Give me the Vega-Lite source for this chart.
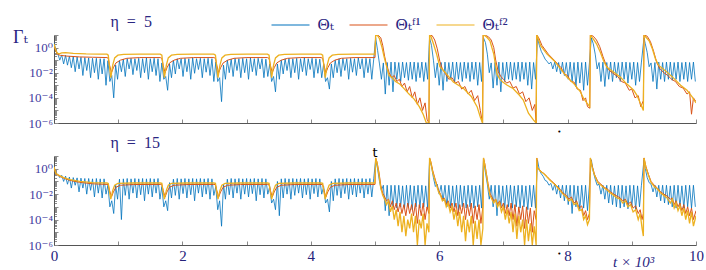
{
"$schema":"https://vega.github.io/schema/vega-lite/v6.json",
"padding":{"left":12,"top":5,"right":0,"bottom":0},
"bounds":"flush",
"spacing":33,
"config":{
 "view":{"stroke":null},
 "font":"Liberation Serif, DejaVu Serif, serif",
 "axis":{"grid":false,"domainColor":"#555555","tickColor":"#8a8a8a","labelColor":"#3f3b9e","labelFont":"Liberation Serif, DejaVu Serif, serif","titleFont":"Liberation Serif, DejaVu Serif, serif","titleColor":"#2a2682","titleFontWeight":"normal","labelFlush":false,"labelOverlap":false},
 "text":{"font":"Liberation Serif, DejaVu Serif, serif"},
 "legend":{"orient":"none","legendX":216.5,"legendY":-30,"direction":"horizontal","symbolType":"stroke","symbolSize":1444,"symbolStrokeWidth":1.2,"labelFont":"Liberation Serif, DejaVu Serif, serif","labelFontSize":17,"labelColor":"#2a2682","columnPadding":12,"labelOffset":7,"padding":0}
},
"datasets":{
"tb":[{"t":0,"v":2.5},{"t":0.03,"v":0.6},{"t":0.06,"v":0.32},{"t":0.09,"v":0.1},{"t":0.12,"v":0.26},{"t":0.15,"v":0.05},{"t":0.18,"v":0.24},{"t":0.21,"v":0.04},{"t":0.24,"v":0.21},{"t":0.27,"v":0.025},{"t":0.3,"v":0.2},{"t":0.33,"v":0.012},{"t":0.36,"v":0.18},{"t":0.39,"v":0.02},{"t":0.42,"v":0.17},{"t":0.45,"v":0.006},{"t":0.48,"v":0.16},{"t":0.51,"v":0.015},{"t":0.54,"v":0.15},{"t":0.57,"v":0.004},{"t":0.6,"v":0.14},{"t":0.63,"v":0.01},{"t":0.66,"v":0.14},{"t":0.69,"v":0.003},{"t":0.72,"v":0.13},{"t":0.75,"v":0.008},{"t":0.78,"v":0.13},{"t":0.81,"v":0.001},{"t":0.84,"v":0.09},{"t":0.87,"v":0.002},{"t":0.9,"v":0.006},{"t":0.93,"v":1e-4},{"t":0.96,"v":0.04},{"t":0.99,"v":0.003},{"t":1.02,"v":0.09},{"t":1.05,"v":0.012},{"t":1.08,"v":0.12},{"t":1.11,"v":0.005},{"t":1.14,"v":0.13},{"t":1.17,"v":0.02},{"t":1.2,"v":0.14},{"t":1.23,"v":0.007},{"t":1.26,"v":0.13},{"t":1.29,"v":0.015},{"t":1.32,"v":0.14},{"t":1.35,"v":0.004},{"t":1.38,"v":0.13},{"t":1.41,"v":0.01},{"t":1.44,"v":0.15},{"t":1.47,"v":0.003},{"t":1.5,"v":0.13},{"t":1.53,"v":0.012},{"t":1.56,"v":0.14},{"t":1.59,"v":0.006},{"t":1.62,"v":0.13},{"t":1.65,"v":0.002},{"t":1.68,"v":0.06},{"t":1.71,"v":0.003},{"t":1.74,"v":0.005},{"t":1.77,"v":4e-4},{"t":1.8,"v":0.05},{"t":1.83,"v":0.004},{"t":1.86,"v":0.1},{"t":1.89,"v":0.008},{"t":1.92,"v":0.13},{"t":1.95,"v":0.02},{"t":1.98,"v":0.13},{"t":2.01,"v":0.005},{"t":2.04,"v":0.14},{"t":2.07,"v":0.012},{"t":2.1,"v":0.13},{"t":2.13,"v":0.003},{"t":2.16,"v":0.15},{"t":2.19,"v":0.009},{"t":2.22,"v":0.13},{"t":2.25,"v":0.018},{"t":2.28,"v":0.14},{"t":2.31,"v":0.004},{"t":2.34,"v":0.13},{"t":2.37,"v":0.011},{"t":2.4,"v":0.14},{"t":2.43,"v":0.006},{"t":2.46,"v":0.13},{"t":2.49,"v":0.002},{"t":2.52,"v":0.07},{"t":2.55,"v":0.002},{"t":2.58,"v":0.004},{"t":2.61,"v":5e-5},{"t":2.64,"v":0.04},{"t":2.67,"v":0.003},{"t":2.7,"v":0.1},{"t":2.73,"v":0.01},{"t":2.76,"v":0.12},{"t":2.79,"v":0.005},{"t":2.82,"v":0.14},{"t":2.85,"v":0.015},{"t":2.88,"v":0.13},{"t":2.91,"v":0.004},{"t":2.94,"v":0.14},{"t":2.97,"v":0.01},{"t":3.0,"v":0.13},{"t":3.03,"v":0.003},{"t":3.06,"v":0.15},{"t":3.09,"v":0.012},{"t":3.12,"v":0.13},{"t":3.15,"v":0.006},{"t":3.18,"v":0.14},{"t":3.21,"v":0.02},{"t":3.24,"v":0.13},{"t":3.27,"v":0.004},{"t":3.3,"v":0.12},{"t":3.33,"v":0.005},{"t":3.36,"v":0.05},{"t":3.39,"v":0.002},{"t":3.42,"v":0.005},{"t":3.45,"v":3e-4},{"t":3.48,"v":0.05},{"t":3.51,"v":0.003},{"t":3.54,"v":0.1},{"t":3.57,"v":0.008},{"t":3.6,"v":0.13},{"t":3.63,"v":0.015},{"t":3.66,"v":0.14},{"t":3.69,"v":0.004},{"t":3.72,"v":0.13},{"t":3.75,"v":0.01},{"t":3.78,"v":0.14},{"t":3.81,"v":0.003},{"t":3.84,"v":0.13},{"t":3.87,"v":0.012},{"t":3.9,"v":0.15},{"t":3.93,"v":0.006},{"t":3.96,"v":0.13},{"t":3.99,"v":0.018},{"t":4.02,"v":0.14},{"t":4.05,"v":0.004},{"t":4.08,"v":0.13},{"t":4.11,"v":0.009},{"t":4.14,"v":0.12},{"t":4.17,"v":0.004},{"t":4.2,"v":0.05},{"t":4.23,"v":0.002},{"t":4.26,"v":0.004},{"t":4.29,"v":5e-4},{"t":4.32,"v":0.05},{"t":4.35,"v":0.004},{"t":4.38,"v":0.1},{"t":4.41,"v":0.01},{"t":4.44,"v":0.13},{"t":4.47,"v":0.005},{"t":4.5,"v":0.14},{"t":4.53,"v":0.015},{"t":4.56,"v":0.13},{"t":4.59,"v":0.003},{"t":4.62,"v":0.14},{"t":4.65,"v":0.011},{"t":4.68,"v":0.13},{"t":4.71,"v":0.006},{"t":4.74,"v":0.15},{"t":4.77,"v":0.02},{"t":4.8,"v":0.13},{"t":4.83,"v":0.004},{"t":4.86,"v":0.14},{"t":4.89,"v":0.01},{"t":4.92,"v":0.13},{"t":4.95,"v":0.003},{"t":4.98,"v":0.12},{"t":5.01,"v":6},{"t":5.04,"v":0.6},{"t":5.07,"v":0.05},{"t":5.1,"v":0.003},{"t":5.13,"v":0.06},{"t":5.16,"v":2e-4},{"t":5.19,"v":0.065},{"t":5.22,"v":0.001},{"t":5.25,"v":0.07},{"t":5.28,"v":3e-4},{"t":5.31,"v":0.07},{"t":5.34,"v":0.003},{"t":5.37,"v":0.065},{"t":5.4,"v":0.002},{"t":5.43,"v":0.07},{"t":5.46,"v":0.004},{"t":5.49,"v":0.065},{"t":5.52,"v":0.0025},{"t":5.55,"v":0.07},{"t":5.58,"v":0.003},{"t":5.61,"v":0.07},{"t":5.64,"v":0.002},{"t":5.67,"v":0.065},{"t":5.7,"v":0.004},{"t":5.73,"v":0.07},{"t":5.76,"v":0.002},{"t":5.79,"v":0.065},{"t":5.82,"v":0.003},{"t":5.85,"v":6},{"t":5.88,"v":1.5},{"t":5.91,"v":0.1},{"t":5.94,"v":0.004},{"t":5.97,"v":0.06},{"t":6.0,"v":0.001},{"t":6.03,"v":0.065},{"t":6.06,"v":4e-4},{"t":6.09,"v":0.07},{"t":6.12,"v":0.002},{"t":6.15,"v":0.065},{"t":6.18,"v":0.003},{"t":6.21,"v":0.07},{"t":6.24,"v":0.0015},{"t":6.27,"v":0.07},{"t":6.3,"v":0.003},{"t":6.33,"v":0.065},{"t":6.36,"v":0.002},{"t":6.39,"v":0.07},{"t":6.42,"v":0.0035},{"t":6.45,"v":0.065},{"t":6.48,"v":0.002},{"t":6.51,"v":0.07},{"t":6.54,"v":0.003},{"t":6.57,"v":0.07},{"t":6.6,"v":0.001},{"t":6.63,"v":0.065},{"t":6.66,"v":0.002},{"t":6.69,"v":6},{"t":6.72,"v":2.5},{"t":6.75,"v":0.3},{"t":6.78,"v":0.01},{"t":6.81,"v":0.06},{"t":6.84,"v":6e-4},{"t":6.87,"v":0.065},{"t":6.9,"v":0.001},{"t":6.93,"v":0.07},{"t":6.96,"v":3e-4},{"t":6.99,"v":0.065},{"t":7.02,"v":0.002},{"t":7.05,"v":0.07},{"t":7.08,"v":0.003},{"t":7.11,"v":0.07},{"t":7.14,"v":0.0025},{"t":7.17,"v":0.065},{"t":7.2,"v":0.003},{"t":7.23,"v":0.07},{"t":7.26,"v":0.002},{"t":7.29,"v":0.07},{"t":7.32,"v":0.003},{"t":7.35,"v":0.065},{"t":7.38,"v":0.001},{"t":7.41,"v":0.07},{"t":7.44,"v":5e-4},{"t":7.47,"v":0.065},{"t":7.5,"v":0.003},{"t":7.53,"v":6},{"t":7.56,"v":1.5},{"t":7.59,"v":0.5},{"t":7.62,"v":0.25},{"t":7.65,"v":0.12},{"t":7.68,"v":0.08},{"t":7.71,"v":0.05},{"t":7.74,"v":0.07},{"t":7.77,"v":0.02},{"t":7.8,"v":0.07},{"t":7.83,"v":0.012},{"t":7.86,"v":0.065},{"t":7.89,"v":0.008},{"t":7.92,"v":0.07},{"t":7.95,"v":0.006},{"t":7.98,"v":0.065},{"t":8.01,"v":0.003},{"t":8.04,"v":0.07},{"t":8.07,"v":0.002},{"t":8.1,"v":0.065},{"t":8.13,"v":8e-4},{"t":8.16,"v":0.07},{"t":8.19,"v":0.0015},{"t":8.22,"v":0.065},{"t":8.25,"v":4e-4},{"t":8.28,"v":0.07},{"t":8.31,"v":0.001},{"t":8.34,"v":0.06},{"t":8.37,"v":6},{"t":8.4,"v":2},{"t":8.43,"v":0.3},{"t":8.46,"v":0.02},{"t":8.49,"v":0.065},{"t":8.52,"v":0.002},{"t":8.55,"v":0.07},{"t":8.58,"v":8e-4},{"t":8.61,"v":0.065},{"t":8.64,"v":0.003},{"t":8.67,"v":0.07},{"t":8.7,"v":0.002},{"t":8.73,"v":0.07},{"t":8.76,"v":0.004},{"t":8.79,"v":0.065},{"t":8.82,"v":0.002},{"t":8.85,"v":0.07},{"t":8.88,"v":0.003},{"t":8.91,"v":0.07},{"t":8.94,"v":0.0015},{"t":8.97,"v":0.065},{"t":9.0,"v":0.003},{"t":9.03,"v":0.07},{"t":9.06,"v":0.001},{"t":9.09,"v":0.065},{"t":9.12,"v":0.002},{"t":9.15,"v":0.07},{"t":9.19,"v":6},{"t":9.21,"v":2},{"t":9.24,"v":0.4},{"t":9.27,"v":0.03},{"t":9.3,"v":0.06},{"t":9.33,"v":0.002},{"t":9.36,"v":0.065},{"t":9.39,"v":5e-4},{"t":9.42,"v":0.07},{"t":9.45,"v":0.003},{"t":9.48,"v":0.065},{"t":9.51,"v":0.002},{"t":9.54,"v":0.07},{"t":9.57,"v":0.003},{"t":9.6,"v":0.07},{"t":9.63,"v":0.0025},{"t":9.66,"v":0.065},{"t":9.69,"v":0.003},{"t":9.72,"v":0.07},{"t":9.75,"v":0.002},{"t":9.78,"v":0.065},{"t":9.81,"v":0.003},{"t":9.84,"v":0.07},{"t":9.87,"v":0.002},{"t":9.9,"v":0.065},{"t":9.93,"v":0.003},{"t":9.96,"v":0.07},{"t":9.99,"v":0.002}],
"t1":[{"t":0,"v":1.8},{"t":0.02,"v":0.7},{"t":0.05,"v":0.3},{"t":0.1,"v":0.24},{"t":0.2,"v":0.21},{"t":0.4,"v":0.18},{"t":0.6,"v":0.17},{"t":0.825,"v":0.16},{"t":0.845,"v":0.14},{"t":0.865,"v":0.04},{"t":0.895,"v":0.01},{"t":0.925,"v":0.025},{"t":0.965,"v":0.06},{"t":1.035,"v":0.1},{"t":1.135,"v":0.14},{"t":1.335,"v":0.16},{"t":1.655,"v":0.16},{"t":1.68,"v":0.14},{"t":1.7,"v":0.04},{"t":1.73,"v":0.01},{"t":1.76,"v":0.025},{"t":1.8,"v":0.06},{"t":1.87,"v":0.1},{"t":1.97,"v":0.14},{"t":2.17,"v":0.16},{"t":2.49,"v":0.16},{"t":2.515,"v":0.14},{"t":2.535,"v":0.04},{"t":2.565,"v":0.01},{"t":2.595,"v":0.025},{"t":2.635,"v":0.06},{"t":2.705,"v":0.1},{"t":2.805,"v":0.14},{"t":3.005,"v":0.16},{"t":3.325,"v":0.16},{"t":3.35,"v":0.14},{"t":3.37,"v":0.04},{"t":3.4,"v":0.01},{"t":3.43,"v":0.025},{"t":3.47,"v":0.06},{"t":3.54,"v":0.1},{"t":3.64,"v":0.14},{"t":3.84,"v":0.16},{"t":4.16,"v":0.16},{"t":4.185,"v":0.14},{"t":4.205,"v":0.04},{"t":4.235,"v":0.01},{"t":4.265,"v":0.025},{"t":4.305,"v":0.06},{"t":4.375,"v":0.1},{"t":4.475,"v":0.14},{"t":4.675,"v":0.16},{"t":5.0,"v":0.16},{"t":5.01,"v":10},{"t":5.05,"v":9.5},{"t":5.09,"v":6},{"t":5.12,"v":1.5},{"t":5.15,"v":0.2},{"t":5.18,"v":0.04},{"t":5.22,"v":0.01},{"t":5.26,"v":0.004},{"t":5.3,"v":0.006},{"t":5.34,"v":0.002},{"t":5.38,"v":0.003},{"t":5.42,"v":8e-4},{"t":5.46,"v":0.0015},{"t":5.5,"v":3e-4},{"t":5.54,"v":8e-4},{"t":5.58,"v":1e-4},{"t":5.62,"v":3e-4},{"t":5.66,"v":3e-5},{"t":5.7,"v":1e-4},{"t":5.74,"v":1e-5},{"t":5.78,"v":4e-5},{"t":5.81,"v":2e-6},{"t":5.84,"v":5e-7},{"t":5.85,"v":10},{"t":5.89,"v":9},{"t":5.93,"v":4},{"t":5.97,"v":0.8},{"t":6.01,"v":0.08},{"t":6.05,"v":0.02},{"t":6.1,"v":0.008},{"t":6.15,"v":0.003},{"t":6.2,"v":0.004},{"t":6.25,"v":0.0015},{"t":6.3,"v":0.002},{"t":6.35,"v":5e-4},{"t":6.4,"v":8e-4},{"t":6.45,"v":2e-4},{"t":6.5,"v":4e-4},{"t":6.55,"v":6e-5},{"t":6.6,"v":1.5e-4},{"t":6.64,"v":1e-5},{"t":6.675,"v":1e-6},{"t":6.685,"v":10},{"t":6.72,"v":9.5},{"t":6.77,"v":7},{"t":6.81,"v":4},{"t":6.85,"v":1},{"t":6.88,"v":0.1},{"t":6.92,"v":0.012},{"t":6.96,"v":0.005},{"t":7.0,"v":0.003},{"t":7.05,"v":0.0015},{"t":7.1,"v":0.002},{"t":7.15,"v":6e-4},{"t":7.2,"v":8e-4},{"t":7.25,"v":2e-4},{"t":7.3,"v":3e-4},{"t":7.35,"v":5e-5},{"t":7.4,"v":1e-4},{"t":7.45,"v":1e-5},{"t":7.49,"v":3e-5},{"t":7.51,"v":1e-6},{"t":7.52,"v":10},{"t":7.55,"v":6},{"t":7.6,"v":1.5},{"t":7.7,"v":0.3},{"t":7.8,"v":0.09},{"t":7.86,"v":0.04},{"t":7.9,"v":0.025},{"t":7.95,"v":0.008},{"t":8.0,"v":0.006},{"t":8.05,"v":0.002},{"t":8.1,"v":0.0018},{"t":8.15,"v":5e-4},{"t":8.2,"v":4e-4},{"t":8.24,"v":6e-5},{"t":8.28,"v":1e-4},{"t":8.31,"v":2e-5},{"t":8.345,"v":1.5e-5},{"t":8.355,"v":10},{"t":8.4,"v":8},{"t":8.45,"v":4},{"t":8.5,"v":1.2},{"t":8.55,"v":0.2},{"t":8.6,"v":0.04},{"t":8.65,"v":0.015},{"t":8.72,"v":0.008},{"t":8.78,"v":0.005},{"t":8.84,"v":0.002},{"t":8.9,"v":0.0015},{"t":8.96,"v":4e-4},{"t":9.0,"v":5e-4},{"t":9.05,"v":1e-4},{"t":9.1,"v":1.5e-4},{"t":9.14,"v":2e-5},{"t":9.18,"v":6e-5},{"t":9.19,"v":10},{"t":9.24,"v":8},{"t":9.29,"v":3},{"t":9.34,"v":0.5},{"t":9.39,"v":0.06},{"t":9.44,"v":0.02},{"t":9.5,"v":0.01},{"t":9.56,"v":0.006},{"t":9.62,"v":0.003},{"t":9.68,"v":0.002},{"t":9.74,"v":8e-4},{"t":9.8,"v":6e-4},{"t":9.86,"v":2e-4},{"t":9.9,"v":3e-4},{"t":9.93,"v":5e-6},{"t":9.96,"v":1e-4},{"t":10,"v":5e-5}],
"t2":[{"t":0,"v":2},{"t":0.02,"v":0.8},{"t":0.05,"v":0.36},{"t":0.08,"v":0.32},{"t":0.12,"v":0.38},{"t":0.18,"v":0.4},{"t":0.3,"v":0.34},{"t":0.5,"v":0.31},{"t":0.7,"v":0.3},{"t":0.825,"v":0.3},{"t":0.845,"v":0.25},{"t":0.865,"v":0.03},{"t":0.885,"v":0.004},{"t":0.915,"v":0.04},{"t":0.945,"v":0.15},{"t":0.995,"v":0.25},{"t":1.085,"v":0.29},{"t":1.335,"v":0.3},{"t":1.655,"v":0.3},{"t":1.68,"v":0.25},{"t":1.7,"v":0.03},{"t":1.72,"v":0.004},{"t":1.75,"v":0.04},{"t":1.78,"v":0.15},{"t":1.83,"v":0.25},{"t":1.92,"v":0.29},{"t":2.17,"v":0.3},{"t":2.49,"v":0.3},{"t":2.515,"v":0.25},{"t":2.535,"v":0.03},{"t":2.555,"v":0.004},{"t":2.585,"v":0.04},{"t":2.615,"v":0.15},{"t":2.665,"v":0.25},{"t":2.755,"v":0.29},{"t":3.005,"v":0.3},{"t":3.325,"v":0.3},{"t":3.35,"v":0.25},{"t":3.37,"v":0.03},{"t":3.39,"v":0.004},{"t":3.42,"v":0.04},{"t":3.45,"v":0.15},{"t":3.5,"v":0.25},{"t":3.59,"v":0.29},{"t":3.84,"v":0.3},{"t":4.16,"v":0.3},{"t":4.185,"v":0.25},{"t":4.205,"v":0.03},{"t":4.225,"v":0.004},{"t":4.255,"v":0.04},{"t":4.285,"v":0.15},{"t":4.335,"v":0.25},{"t":4.425,"v":0.29},{"t":4.675,"v":0.3},{"t":5.0,"v":0.3},{"t":5.01,"v":10},{"t":5.04,"v":9},{"t":5.07,"v":5},{"t":5.11,"v":1},{"t":5.14,"v":0.2},{"t":5.17,"v":0.05},{"t":5.22,"v":0.006},{"t":5.27,"v":0.004},{"t":5.32,"v":0.002},{"t":5.39,"v":0.0012},{"t":5.46,"v":5e-4},{"t":5.53,"v":2e-4},{"t":5.61,"v":8e-5},{"t":5.69,"v":2e-5},{"t":5.75,"v":5e-6},{"t":5.8,"v":1e-6},{"t":5.84,"v":5e-7},{"t":5.85,"v":10},{"t":5.87,"v":8},{"t":5.91,"v":2},{"t":5.96,"v":0.3},{"t":6.01,"v":0.03},{"t":6.09,"v":0.011},{"t":6.22,"v":0.0018},{"t":6.38,"v":5.5e-4},{"t":6.5,"v":1.3e-4},{"t":6.59,"v":2e-5},{"t":6.64,"v":3e-6},{"t":6.675,"v":5e-7},{"t":6.685,"v":10},{"t":6.71,"v":9},{"t":6.75,"v":6},{"t":6.79,"v":3.5},{"t":6.85,"v":0.3},{"t":6.9,"v":0.008},{"t":6.94,"v":0.0034},{"t":6.99,"v":0.0018},{"t":7.06,"v":0.001},{"t":7.15,"v":5.5e-4},{"t":7.25,"v":1.6e-4},{"t":7.31,"v":6.6e-5},{"t":7.39,"v":6e-6},{"t":7.47,"v":1.7e-6},{"t":7.51,"v":5e-7},{"t":7.52,"v":10},{"t":7.53,"v":8},{"t":7.58,"v":1.4},{"t":7.68,"v":0.3},{"t":7.79,"v":0.09},{"t":7.89,"v":0.02},{"t":7.99,"v":0.0045},{"t":8.1,"v":0.0013},{"t":8.2,"v":3e-4},{"t":8.25,"v":9e-5},{"t":8.3,"v":4e-5},{"t":8.345,"v":2e-5},{"t":8.355,"v":10},{"t":8.4,"v":5},{"t":8.45,"v":2},{"t":8.51,"v":0.43},{"t":8.56,"v":0.09},{"t":8.61,"v":0.028},{"t":8.72,"v":0.011},{"t":8.82,"v":0.0046},{"t":8.92,"v":0.0013},{"t":9.03,"v":4e-4},{"t":9.08,"v":1.6e-4},{"t":9.13,"v":4e-5},{"t":9.18,"v":1e-5},{"t":9.19,"v":10},{"t":9.27,"v":3.5},{"t":9.32,"v":0.8},{"t":9.37,"v":0.12},{"t":9.42,"v":0.038},{"t":9.55,"v":0.011},{"t":9.66,"v":0.0034},{"t":9.76,"v":0.001},{"t":9.86,"v":4e-4},{"t":9.94,"v":1.2e-4},{"t":10,"v":4e-5}],
"bb":[{"t":0,"v":1.4},{"t":0.03,"v":0.4},{"t":0.06,"v":0.35},{"t":0.09,"v":0.2},{"t":0.12,"v":0.3},{"t":0.15,"v":0.1},{"t":0.18,"v":0.26},{"t":0.21,"v":0.06},{"t":0.24,"v":0.22},{"t":0.27,"v":0.03},{"t":0.3,"v":0.2},{"t":0.33,"v":0.05},{"t":0.36,"v":0.19},{"t":0.39,"v":0.015},{"t":0.42,"v":0.18},{"t":0.45,"v":0.03},{"t":0.48,"v":0.17},{"t":0.51,"v":0.01},{"t":0.54,"v":0.17},{"t":0.57,"v":0.02},{"t":0.6,"v":0.16},{"t":0.63,"v":0.006},{"t":0.66,"v":0.17},{"t":0.69,"v":0.012},{"t":0.72,"v":0.16},{"t":0.75,"v":0.005},{"t":0.78,"v":0.16},{"t":0.81,"v":0.01},{"t":0.84,"v":0.05},{"t":0.87,"v":0.001},{"t":0.9,"v":0.003},{"t":0.93,"v":3e-4},{"t":0.96,"v":0.05},{"t":0.99,"v":0.004},{"t":1.02,"v":0.15},{"t":1.05,"v":1e-4},{"t":1.08,"v":0.16},{"t":1.11,"v":0.008},{"t":1.14,"v":0.17},{"t":1.17,"v":0.004},{"t":1.2,"v":0.16},{"t":1.23,"v":0.012},{"t":1.26,"v":0.17},{"t":1.29,"v":0.005},{"t":1.32,"v":0.16},{"t":1.35,"v":0.009},{"t":1.38,"v":0.17},{"t":1.41,"v":0.003},{"t":1.44,"v":0.16},{"t":1.47,"v":0.01},{"t":1.5,"v":0.17},{"t":1.53,"v":0.006},{"t":1.56,"v":0.16},{"t":1.59,"v":0.012},{"t":1.62,"v":0.17},{"t":1.65,"v":0.004},{"t":1.68,"v":0.04},{"t":1.71,"v":0.001},{"t":1.74,"v":0.003},{"t":1.77,"v":5e-4},{"t":1.8,"v":0.08},{"t":1.83,"v":0.005},{"t":1.86,"v":0.15},{"t":1.89,"v":0.008},{"t":1.92,"v":0.17},{"t":1.95,"v":0.004},{"t":1.98,"v":0.16},{"t":2.01,"v":0.011},{"t":2.04,"v":0.17},{"t":2.07,"v":0.005},{"t":2.1,"v":0.16},{"t":2.13,"v":0.009},{"t":2.16,"v":0.17},{"t":2.19,"v":0.003},{"t":2.22,"v":0.16},{"t":2.25,"v":0.012},{"t":2.28,"v":0.17},{"t":2.31,"v":0.006},{"t":2.34,"v":0.16},{"t":2.37,"v":0.01},{"t":2.4,"v":0.17},{"t":2.43,"v":0.004},{"t":2.46,"v":0.16},{"t":2.49,"v":0.008},{"t":2.52,"v":0.04},{"t":2.55,"v":6e-4},{"t":2.58,"v":0.003},{"t":2.61,"v":3e-5},{"t":2.64,"v":0.06},{"t":2.67,"v":0.004},{"t":2.7,"v":0.15},{"t":2.73,"v":0.009},{"t":2.76,"v":0.17},{"t":2.79,"v":0.005},{"t":2.82,"v":0.16},{"t":2.85,"v":0.012},{"t":2.88,"v":0.17},{"t":2.91,"v":0.004},{"t":2.94,"v":0.16},{"t":2.97,"v":0.01},{"t":3.0,"v":0.17},{"t":3.03,"v":0.006},{"t":3.06,"v":0.16},{"t":3.09,"v":0.011},{"t":3.12,"v":0.17},{"t":3.15,"v":0.003},{"t":3.18,"v":0.16},{"t":3.21,"v":0.009},{"t":3.24,"v":0.17},{"t":3.27,"v":0.005},{"t":3.3,"v":0.16},{"t":3.33,"v":0.01},{"t":3.36,"v":0.04},{"t":3.39,"v":0.002},{"t":3.42,"v":0.004},{"t":3.45,"v":6e-4},{"t":3.48,"v":0.1},{"t":3.51,"v":2e-4},{"t":3.54,"v":0.16},{"t":3.57,"v":0.005},{"t":3.6,"v":0.17},{"t":3.63,"v":0.01},{"t":3.66,"v":0.16},{"t":3.69,"v":0.004},{"t":3.72,"v":0.17},{"t":3.75,"v":0.008},{"t":3.78,"v":0.16},{"t":3.81,"v":0.012},{"t":3.84,"v":0.17},{"t":3.87,"v":0.005},{"t":3.9,"v":0.16},{"t":3.93,"v":0.009},{"t":3.96,"v":0.17},{"t":3.99,"v":0.004},{"t":4.02,"v":0.16},{"t":4.05,"v":0.011},{"t":4.08,"v":0.17},{"t":4.11,"v":0.006},{"t":4.14,"v":0.16},{"t":4.17,"v":0.01},{"t":4.2,"v":0.04},{"t":4.23,"v":0.002},{"t":4.26,"v":0.004},{"t":4.29,"v":4e-4},{"t":4.32,"v":0.1},{"t":4.35,"v":0.003},{"t":4.38,"v":0.16},{"t":4.41,"v":0.008},{"t":4.44,"v":0.17},{"t":4.47,"v":0.005},{"t":4.5,"v":0.16},{"t":4.53,"v":0.011},{"t":4.56,"v":0.17},{"t":4.59,"v":0.004},{"t":4.62,"v":0.16},{"t":4.65,"v":0.009},{"t":4.68,"v":0.17},{"t":4.71,"v":0.006},{"t":4.74,"v":0.16},{"t":4.77,"v":0.012},{"t":4.8,"v":0.17},{"t":4.83,"v":0.005},{"t":4.86,"v":0.16},{"t":4.89,"v":0.01},{"t":4.92,"v":0.17},{"t":4.95,"v":0.006},{"t":4.98,"v":0.16},{"t":5.01,"v":5},{"t":5.04,"v":1},{"t":5.07,"v":0.1},{"t":5.1,"v":0.02},{"t":5.13,"v":0.05},{"t":5.16,"v":5e-4},{"t":5.19,"v":0.05},{"t":5.22,"v":2e-4},{"t":5.25,"v":0.05},{"t":5.28,"v":0.001},{"t":5.31,"v":0.05},{"t":5.34,"v":8e-4},{"t":5.37,"v":0.05},{"t":5.4,"v":0.001},{"t":5.43,"v":0.045},{"t":5.46,"v":8e-4},{"t":5.49,"v":0.05},{"t":5.52,"v":0.001},{"t":5.55,"v":0.05},{"t":5.58,"v":6e-4},{"t":5.61,"v":0.045},{"t":5.64,"v":0.001},{"t":5.67,"v":0.05},{"t":5.7,"v":8e-4},{"t":5.73,"v":0.05},{"t":5.76,"v":0.001},{"t":5.79,"v":0.045},{"t":5.82,"v":8e-4},{"t":5.85,"v":5},{"t":5.88,"v":1.5},{"t":5.91,"v":0.2},{"t":5.94,"v":0.04},{"t":5.97,"v":0.06},{"t":6.0,"v":0.01},{"t":6.03,"v":0.05},{"t":6.06,"v":0.003},{"t":6.09,"v":0.05},{"t":6.12,"v":0.001},{"t":6.15,"v":0.05},{"t":6.18,"v":8e-4},{"t":6.21,"v":0.045},{"t":6.24,"v":0.001},{"t":6.27,"v":0.05},{"t":6.3,"v":5e-4},{"t":6.33,"v":0.05},{"t":6.36,"v":0.001},{"t":6.39,"v":0.045},{"t":6.42,"v":8e-4},{"t":6.45,"v":0.05},{"t":6.48,"v":0.001},{"t":6.51,"v":0.05},{"t":6.54,"v":8e-4},{"t":6.57,"v":0.045},{"t":6.6,"v":0.001},{"t":6.63,"v":0.05},{"t":6.66,"v":8e-4},{"t":6.69,"v":5},{"t":6.72,"v":0.5},{"t":6.75,"v":0.06},{"t":6.78,"v":0.004},{"t":6.81,"v":0.05},{"t":6.84,"v":0.001},{"t":6.87,"v":0.05},{"t":6.9,"v":2e-4},{"t":6.93,"v":0.05},{"t":6.96,"v":0.001},{"t":6.99,"v":0.045},{"t":7.02,"v":8e-4},{"t":7.05,"v":0.05},{"t":7.08,"v":0.001},{"t":7.11,"v":0.05},{"t":7.14,"v":8e-4},{"t":7.17,"v":0.045},{"t":7.2,"v":0.001},{"t":7.23,"v":0.05},{"t":7.26,"v":8e-4},{"t":7.29,"v":0.05},{"t":7.32,"v":0.001},{"t":7.35,"v":0.045},{"t":7.38,"v":6e-4},{"t":7.41,"v":0.05},{"t":7.44,"v":0.001},{"t":7.47,"v":0.05},{"t":7.5,"v":8e-4},{"t":7.53,"v":5},{"t":7.56,"v":0.8},{"t":7.59,"v":0.4},{"t":7.62,"v":0.25},{"t":7.65,"v":0.12},{"t":7.68,"v":0.1},{"t":7.71,"v":0.05},{"t":7.74,"v":0.07},{"t":7.77,"v":0.02},{"t":7.8,"v":0.06},{"t":7.83,"v":0.01},{"t":7.86,"v":0.05},{"t":7.89,"v":0.005},{"t":7.92,"v":0.05},{"t":7.95,"v":0.003},{"t":7.98,"v":0.05},{"t":8.01,"v":0.0015},{"t":8.04,"v":0.05},{"t":8.07,"v":3e-4},{"t":8.1,"v":0.05},{"t":8.13,"v":0.001},{"t":8.16,"v":0.045},{"t":8.19,"v":6e-4},{"t":8.22,"v":0.05},{"t":8.25,"v":8e-4},{"t":8.28,"v":0.05},{"t":8.31,"v":5e-4},{"t":8.34,"v":0.05},{"t":8.37,"v":5},{"t":8.4,"v":0.6},{"t":8.43,"v":0.15},{"t":8.46,"v":0.05},{"t":8.49,"v":0.06},{"t":8.52,"v":0.01},{"t":8.55,"v":0.05},{"t":8.58,"v":0.004},{"t":8.61,"v":0.05},{"t":8.64,"v":0.002},{"t":8.67,"v":0.05},{"t":8.7,"v":0.0015},{"t":8.73,"v":0.045},{"t":8.76,"v":0.001},{"t":8.79,"v":0.05},{"t":8.82,"v":8e-4},{"t":8.85,"v":0.05},{"t":8.88,"v":0.001},{"t":8.91,"v":0.045},{"t":8.94,"v":7e-4},{"t":8.97,"v":0.05},{"t":9.0,"v":0.001},{"t":9.03,"v":0.05},{"t":9.06,"v":6e-4},{"t":9.09,"v":0.045},{"t":9.12,"v":0.001},{"t":9.15,"v":0.05},{"t":9.19,"v":5},{"t":9.21,"v":1},{"t":9.24,"v":0.2},{"t":9.27,"v":0.08},{"t":9.3,"v":0.06},{"t":9.33,"v":0.015},{"t":9.36,"v":0.05},{"t":9.39,"v":0.006},{"t":9.42,"v":0.05},{"t":9.45,"v":0.003},{"t":9.48,"v":0.05},{"t":9.51,"v":0.002},{"t":9.54,"v":0.05},{"t":9.57,"v":0.0015},{"t":9.6,"v":0.045},{"t":9.63,"v":0.001},{"t":9.66,"v":0.05},{"t":9.69,"v":8e-4},{"t":9.72,"v":0.05},{"t":9.75,"v":0.001},{"t":9.78,"v":0.045},{"t":9.81,"v":8e-4},{"t":9.84,"v":0.05},{"t":9.87,"v":0.001},{"t":9.9,"v":0.05},{"t":9.93,"v":8e-4},{"t":9.96,"v":0.05},{"t":9.99,"v":0.001}],
"b1":[{"t":0,"v":1.3},{"t":0.03,"v":0.38},{"t":0.08,"v":0.27},{"t":0.15,"v":0.18},{"t":0.25,"v":0.12},{"t":0.4,"v":0.085},{"t":0.6,"v":0.065},{"t":0.825,"v":0.058},{"t":0.845,"v":0.055},{"t":0.865,"v":0.02},{"t":0.895,"v":0.006},{"t":0.925,"v":0.015},{"t":0.965,"v":0.035},{"t":1.035,"v":0.05},{"t":1.235,"v":0.057},{"t":1.655,"v":0.058},{"t":1.68,"v":0.055},{"t":1.7,"v":0.02},{"t":1.73,"v":0.006},{"t":1.76,"v":0.015},{"t":1.8,"v":0.035},{"t":1.87,"v":0.05},{"t":2.07,"v":0.057},{"t":2.49,"v":0.058},{"t":2.515,"v":0.055},{"t":2.535,"v":0.02},{"t":2.565,"v":0.006},{"t":2.595,"v":0.015},{"t":2.635,"v":0.035},{"t":2.705,"v":0.05},{"t":2.905,"v":0.057},{"t":3.325,"v":0.058},{"t":3.35,"v":0.055},{"t":3.37,"v":0.02},{"t":3.4,"v":0.006},{"t":3.43,"v":0.015},{"t":3.47,"v":0.035},{"t":3.54,"v":0.05},{"t":3.74,"v":0.057},{"t":4.16,"v":0.058},{"t":4.185,"v":0.055},{"t":4.205,"v":0.02},{"t":4.235,"v":0.006},{"t":4.265,"v":0.015},{"t":4.305,"v":0.035},{"t":4.375,"v":0.05},{"t":4.575,"v":0.057},{"t":5.0,"v":0.058},{"t":5.01,"v":7},{"t":5.03,"v":3.5},{"t":5.06,"v":0.6},{"t":5.09,"v":0.05},{"t":5.12,"v":0.012},{"t":5.15,"v":0.006},{"t":5.18,"v":0.003},{"t":5.21,"v":0.004},{"t":5.24,"v":0.001},{"t":5.27,"v":0.003},{"t":5.3,"v":6e-4},{"t":5.33,"v":0.002},{"t":5.36,"v":4e-4},{"t":5.39,"v":0.002},{"t":5.42,"v":3e-4},{"t":5.45,"v":0.0015},{"t":5.48,"v":2e-4},{"t":5.51,"v":0.002},{"t":5.54,"v":3e-4},{"t":5.57,"v":0.0015},{"t":5.6,"v":2e-4},{"t":5.63,"v":0.002},{"t":5.66,"v":5e-5},{"t":5.69,"v":0.0015},{"t":5.72,"v":2e-4},{"t":5.75,"v":0.002},{"t":5.78,"v":1e-4},{"t":5.81,"v":0.001},{"t":5.84,"v":3e-4},{"t":5.85,"v":7},{"t":5.87,"v":3.5},{"t":5.9,"v":0.7},{"t":5.93,"v":0.2},{"t":5.96,"v":0.06},{"t":5.99,"v":0.02},{"t":6.02,"v":0.01},{"t":6.05,"v":0.004},{"t":6.08,"v":0.005},{"t":6.11,"v":0.0015},{"t":6.14,"v":0.003},{"t":6.17,"v":8e-4},{"t":6.2,"v":0.002},{"t":6.23,"v":4e-4},{"t":6.26,"v":0.002},{"t":6.29,"v":2e-4},{"t":6.32,"v":0.0015},{"t":6.35,"v":3e-4},{"t":6.38,"v":0.002},{"t":6.41,"v":1e-4},{"t":6.44,"v":0.0015},{"t":6.47,"v":2e-4},{"t":6.5,"v":0.002},{"t":6.53,"v":5e-5},{"t":6.56,"v":0.0012},{"t":6.59,"v":1e-4},{"t":6.62,"v":0.0015},{"t":6.65,"v":5e-5},{"t":6.68,"v":0.001},{"t":6.69,"v":7},{"t":6.71,"v":2.5},{"t":6.73,"v":0.6},{"t":6.76,"v":0.07},{"t":6.79,"v":0.012},{"t":6.82,"v":0.006},{"t":6.85,"v":0.003},{"t":6.88,"v":0.004},{"t":6.91,"v":0.0015},{"t":6.94,"v":0.003},{"t":6.97,"v":8e-4},{"t":7.0,"v":0.002},{"t":7.03,"v":3e-4},{"t":7.06,"v":0.0015},{"t":7.09,"v":2e-4},{"t":7.12,"v":0.002},{"t":7.15,"v":1e-4},{"t":7.18,"v":0.0015},{"t":7.21,"v":3e-5},{"t":7.24,"v":0.001},{"t":7.27,"v":1e-4},{"t":7.3,"v":0.0012},{"t":7.33,"v":2e-5},{"t":7.36,"v":0.001},{"t":7.39,"v":5e-5},{"t":7.42,"v":8e-4},{"t":7.45,"v":1e-5},{"t":7.48,"v":5e-4},{"t":7.51,"v":1e-4},{"t":7.52,"v":7},{"t":7.53,"v":1.3},{"t":7.58,"v":0.65},{"t":7.63,"v":0.42},{"t":7.68,"v":0.24},{"t":7.73,"v":0.13},{"t":7.78,"v":0.08},{"t":7.83,"v":0.045},{"t":7.88,"v":0.025},{"t":7.93,"v":0.012},{"t":7.98,"v":0.008},{"t":8.02,"v":0.004},{"t":8.06,"v":0.006},{"t":8.1,"v":0.002},{"t":8.14,"v":0.003},{"t":8.18,"v":8e-4},{"t":8.22,"v":0.0012},{"t":8.25,"v":2e-4},{"t":8.28,"v":5e-4},{"t":8.31,"v":1e-4},{"t":8.34,"v":3e-4},{"t":8.355,"v":7},{"t":8.38,"v":1.8},{"t":8.42,"v":0.35},{"t":8.47,"v":0.1},{"t":8.52,"v":0.06},{"t":8.57,"v":0.035},{"t":8.62,"v":0.025},{"t":8.67,"v":0.015},{"t":8.72,"v":0.01},{"t":8.77,"v":0.007},{"t":8.82,"v":0.005},{"t":8.86,"v":0.003},{"t":8.9,"v":0.004},{"t":8.94,"v":0.0015},{"t":8.98,"v":0.0025},{"t":9.02,"v":8e-4},{"t":9.06,"v":0.0012},{"t":9.1,"v":3e-4},{"t":9.13,"v":6e-4},{"t":9.16,"v":1e-4},{"t":9.18,"v":3e-4},{"t":9.19,"v":7},{"t":9.22,"v":1.5},{"t":9.26,"v":0.35},{"t":9.3,"v":0.1},{"t":9.35,"v":0.05},{"t":9.4,"v":0.03},{"t":9.45,"v":0.015},{"t":9.5,"v":0.01},{"t":9.55,"v":0.007},{"t":9.6,"v":0.004},{"t":9.63,"v":0.005},{"t":9.66,"v":0.0015},{"t":9.69,"v":0.003},{"t":9.72,"v":0.001},{"t":9.75,"v":0.002},{"t":9.78,"v":5e-4},{"t":9.81,"v":0.0015},{"t":9.84,"v":3e-4},{"t":9.87,"v":0.001},{"t":9.9,"v":2e-4},{"t":9.93,"v":8e-4},{"t":9.96,"v":1e-4},{"t":10,"v":5e-4}],
"b2":[{"t":0,"v":1.4},{"t":0.03,"v":0.42},{"t":0.08,"v":0.3},{"t":0.15,"v":0.2},{"t":0.25,"v":0.14},{"t":0.4,"v":0.1},{"t":0.6,"v":0.08},{"t":0.825,"v":0.075},{"t":0.845,"v":0.07},{"t":0.865,"v":0.015},{"t":0.885,"v":0.004},{"t":0.915,"v":0.02},{"t":0.945,"v":0.05},{"t":0.995,"v":0.07},{"t":1.235,"v":0.075},{"t":1.655,"v":0.075},{"t":1.68,"v":0.07},{"t":1.7,"v":0.015},{"t":1.72,"v":0.004},{"t":1.75,"v":0.02},{"t":1.78,"v":0.05},{"t":1.83,"v":0.07},{"t":2.07,"v":0.075},{"t":2.49,"v":0.075},{"t":2.515,"v":0.07},{"t":2.535,"v":0.015},{"t":2.555,"v":0.004},{"t":2.585,"v":0.02},{"t":2.615,"v":0.05},{"t":2.665,"v":0.07},{"t":2.905,"v":0.075},{"t":3.325,"v":0.075},{"t":3.35,"v":0.07},{"t":3.37,"v":0.015},{"t":3.39,"v":0.004},{"t":3.42,"v":0.02},{"t":3.45,"v":0.05},{"t":3.5,"v":0.07},{"t":3.74,"v":0.075},{"t":4.16,"v":0.075},{"t":4.185,"v":0.07},{"t":4.205,"v":0.015},{"t":4.225,"v":0.004},{"t":4.255,"v":0.02},{"t":4.285,"v":0.05},{"t":4.335,"v":0.07},{"t":4.575,"v":0.075},{"t":5.0,"v":0.075},{"t":5.01,"v":7},{"t":5.03,"v":3},{"t":5.06,"v":0.4},{"t":5.09,"v":0.03},{"t":5.12,"v":0.008},{"t":5.15,"v":0.004},{"t":5.18,"v":0.0015},{"t":5.21,"v":0.003},{"t":5.24,"v":4e-4},{"t":5.27,"v":0.0012},{"t":5.3,"v":1e-4},{"t":5.33,"v":6e-4},{"t":5.36,"v":3e-5},{"t":5.39,"v":4e-4},{"t":5.42,"v":1e-5},{"t":5.45,"v":2e-4},{"t":5.48,"v":5e-6},{"t":5.51,"v":1e-4},{"t":5.54,"v":2e-5},{"t":5.57,"v":3e-4},{"t":5.6,"v":1e-5},{"t":5.63,"v":2e-4},{"t":5.66,"v":5e-7},{"t":5.69,"v":1e-4},{"t":5.72,"v":2e-5},{"t":5.75,"v":3e-4},{"t":5.78,"v":1e-6},{"t":5.81,"v":5e-5},{"t":5.84,"v":1e-5},{"t":5.85,"v":7},{"t":5.87,"v":3},{"t":5.9,"v":0.5},{"t":5.93,"v":0.15},{"t":5.96,"v":0.05},{"t":5.99,"v":0.015},{"t":6.02,"v":0.008},{"t":6.05,"v":0.003},{"t":6.08,"v":0.004},{"t":6.11,"v":0.001},{"t":6.14,"v":0.002},{"t":6.17,"v":4e-4},{"t":6.2,"v":0.001},{"t":6.23,"v":1e-4},{"t":6.26,"v":6e-4},{"t":6.29,"v":3e-5},{"t":6.32,"v":4e-4},{"t":6.35,"v":1e-5},{"t":6.38,"v":2e-4},{"t":6.41,"v":2e-6},{"t":6.44,"v":1e-4},{"t":6.47,"v":1e-5},{"t":6.5,"v":2e-4},{"t":6.53,"v":5e-7},{"t":6.56,"v":8e-5},{"t":6.59,"v":3e-6},{"t":6.62,"v":1e-4},{"t":6.65,"v":5e-7},{"t":6.68,"v":2e-5},{"t":6.69,"v":7},{"t":6.71,"v":2},{"t":6.73,"v":0.5},{"t":6.76,"v":0.05},{"t":6.79,"v":0.008},{"t":6.82,"v":0.004},{"t":6.85,"v":0.002},{"t":6.88,"v":0.0035},{"t":6.91,"v":0.001},{"t":6.94,"v":0.002},{"t":6.97,"v":4e-4},{"t":7.0,"v":0.001},{"t":7.03,"v":1e-4},{"t":7.06,"v":6e-4},{"t":7.09,"v":5e-5},{"t":7.12,"v":4e-4},{"t":7.15,"v":1e-5},{"t":7.18,"v":3e-4},{"t":7.21,"v":3e-6},{"t":7.24,"v":2e-4},{"t":7.27,"v":1e-5},{"t":7.3,"v":1e-4},{"t":7.33,"v":5e-7},{"t":7.36,"v":1e-4},{"t":7.39,"v":2e-6},{"t":7.42,"v":5e-5},{"t":7.45,"v":5e-7},{"t":7.48,"v":3e-5},{"t":7.51,"v":5e-7},{"t":7.52,"v":7},{"t":7.53,"v":1.2},{"t":7.58,"v":0.6},{"t":7.63,"v":0.4},{"t":7.68,"v":0.22},{"t":7.73,"v":0.12},{"t":7.78,"v":0.07},{"t":7.83,"v":0.04},{"t":7.88,"v":0.02},{"t":7.93,"v":0.01},{"t":7.98,"v":0.006},{"t":8.02,"v":0.003},{"t":8.06,"v":0.004},{"t":8.1,"v":0.0015},{"t":8.14,"v":0.002},{"t":8.18,"v":5e-4},{"t":8.22,"v":6e-4},{"t":8.25,"v":1e-4},{"t":8.28,"v":2e-4},{"t":8.31,"v":4e-5},{"t":8.34,"v":1e-4},{"t":8.355,"v":7},{"t":8.38,"v":1.5},{"t":8.42,"v":0.3},{"t":8.47,"v":0.08},{"t":8.52,"v":0.05},{"t":8.57,"v":0.03},{"t":8.62,"v":0.02},{"t":8.67,"v":0.012},{"t":8.72,"v":0.008},{"t":8.77,"v":0.005},{"t":8.82,"v":0.004},{"t":8.86,"v":0.002},{"t":8.9,"v":0.003},{"t":8.94,"v":0.001},{"t":8.98,"v":0.0015},{"t":9.02,"v":4e-4},{"t":9.06,"v":6e-4},{"t":9.1,"v":1e-4},{"t":9.13,"v":3e-4},{"t":9.16,"v":2e-5},{"t":9.18,"v":5e-6},{"t":9.19,"v":7},{"t":9.22,"v":1.2},{"t":9.26,"v":0.3},{"t":9.3,"v":0.08},{"t":9.35,"v":0.04},{"t":9.4,"v":0.025},{"t":9.45,"v":0.012},{"t":9.5,"v":0.008},{"t":9.55,"v":0.005},{"t":9.6,"v":0.002},{"t":9.63,"v":0.004},{"t":9.66,"v":8e-4},{"t":9.69,"v":0.002},{"t":9.72,"v":5e-4},{"t":9.75,"v":0.0012},{"t":9.78,"v":2e-4},{"t":9.81,"v":8e-4},{"t":9.84,"v":1e-4},{"t":9.87,"v":5e-4},{"t":9.9,"v":5e-5},{"t":9.93,"v":4e-4},{"t":9.96,"v":3e-5},{"t":10,"v":2e-4}]
},
"vconcat":[
{
 "width":642,"height":88,
 "layer":[
  {"data":{"name":"tb"},"mark":{"type":"line","strokeWidth":0.8,"clip":true},
   "encoding":{
    "x":{"field":"t","type":"quantitative","scale":{"domain":[0,10],"nice":false},"axis":{"values":[0,1,2,3,4,5,6,7,8,9,10],"labels":false,"tickSize":-4,"title":null}},
    "y":{"field":"v","type":"quantitative","scale":{"type":"log","domain":[1e-6,10],"nice":false,"clamp":true},
     "axis":{"values":[1e-6,2e-6,3e-6,4e-6,5e-6,6e-6,7e-6,8e-6,9e-6,1e-5,2e-5,3e-5,4e-5,5e-5,6e-5,7e-5,8e-5,9e-5,1e-4,2e-4,3e-4,4e-4,5e-4,6e-4,7e-4,8e-4,9e-4,0.001,0.002,0.003,0.004,0.005,0.006,0.007,0.008,0.009,0.01,0.02,0.03,0.04,0.05,0.06,0.07,0.08,0.09,0.1,0.2,0.3,0.4,0.5,0.6,0.7,0.8,0.9,1,2,3,4,5,6,7,8,9,10],
      "labelExpr":"datum.value==1?'10⁰':datum.value==0.01?'10⁻²':datum.value==0.0001?'10⁻⁴':datum.value==0.000001?'10⁻⁶':''",
      "tickSize":{"condition":{"test":"datum.value==1||datum.value==0.1||datum.value==0.01||datum.value==0.001||datum.value==0.0001||datum.value==0.00001||datum.value==0.000001||datum.value==10","value":-4},"value":-2.5},
      "labelPadding":5.5,"labelFontSize":13,"title":"Γₜ","titleAngle":0,"titleAlign":"left","titleBaseline":"alphabetic","titleX":-41.5,"titleY":7.5,"titleFontSize":18}},
    "color":{"datum":"Θₜ","scale":{"domain":["Θₜ","Θₜᶠ¹","Θₜᶠ²"],"range":["#0072BD","#D95319","#EDB120"]},"legend":{"title":null}}
   }},
  {"data":{"name":"t1"},"mark":{"type":"line","strokeWidth":1,"clip":true},
   "encoding":{"x":{"field":"t","type":"quantitative","scale":{"domain":[0,10],"nice":false}},"y":{"field":"v","type":"quantitative","scale":{"type":"log","domain":[1e-6,10],"nice":false,"clamp":true}},"color":{"datum":"Θₜᶠ¹","legend":{"title":null}}}},
  {"data":{"name":"t2"},"mark":{"type":"line","strokeWidth":1.3,"clip":true},
   "encoding":{"x":{"field":"t","type":"quantitative","scale":{"domain":[0,10],"nice":false}},"y":{"field":"v","type":"quantitative","scale":{"type":"log","domain":[1e-6,10],"nice":false,"clamp":true}},"color":{"datum":"Θₜᶠ²","legend":{"title":null}}}},
  {"data":{"values":[{"t":0.88,"v":10,"s":"η\u2002=\u20025"}]},"mark":{"type":"text","align":"left","baseline":"alphabetic","dy":-8.5,"fontSize":16,"color":"#2a2682"},
   "encoding":{"x":{"field":"t","type":"quantitative","scale":{"domain":[0,10],"nice":false}},"y":{"field":"v","type":"quantitative","scale":{"type":"log","domain":[1e-6,10],"nice":false,"clamp":true}},"text":{"field":"s"}}},
  {"data":{"values":[{"t":7.87,"v":1e-6,"s":"•"}]},"mark":{"type":"text","dy":9,"fontSize":7,"color":"#000000","font":"DejaVu Sans"},
   "encoding":{"x":{"field":"t","type":"quantitative","scale":{"domain":[0,10],"nice":false}},"y":{"field":"v","type":"quantitative","scale":{"type":"log","domain":[1e-6,10],"nice":false,"clamp":true}},"text":{"field":"s"}}}
 ]
},
{
 "width":642,"height":89,
 "layer":[
  {"data":{"name":"bb"},"mark":{"type":"line","strokeWidth":0.8,"clip":true},
   "encoding":{
    "x":{"field":"t","type":"quantitative","scale":{"domain":[0,10],"nice":false},"axis":{"values":[0,1,2,3,4,5,6,7,8,9,10],"labelExpr":"datum.value%2==0?format(datum.value,'d'):''","tickSize":-4,"labelPadding":7.5,"labelFontSize":15,"labelColor":"#25217a","title":"t × 10³","titleFontSize":15,"titleFontStyle":"italic","titleAlign":"left","titleBaseline":"alphabetic","titleX":558.5,"titleY":21.5}},
    "y":{"field":"v","type":"quantitative","scale":{"type":"log","domain":[1e-6,10],"nice":false,"clamp":true},
     "axis":{"values":[1e-6,2e-6,3e-6,4e-6,5e-6,6e-6,7e-6,8e-6,9e-6,1e-5,2e-5,3e-5,4e-5,5e-5,6e-5,7e-5,8e-5,9e-5,1e-4,2e-4,3e-4,4e-4,5e-4,6e-4,7e-4,8e-4,9e-4,0.001,0.002,0.003,0.004,0.005,0.006,0.007,0.008,0.009,0.01,0.02,0.03,0.04,0.05,0.06,0.07,0.08,0.09,0.1,0.2,0.3,0.4,0.5,0.6,0.7,0.8,0.9,1,2,3,4,5,6,7,8,9,10],
      "labelExpr":"datum.value==1?'10⁰':datum.value==0.01?'10⁻²':datum.value==0.0001?'10⁻⁴':datum.value==0.000001?'10⁻⁶':''",
      "tickSize":{"condition":{"test":"datum.value==1||datum.value==0.1||datum.value==0.01||datum.value==0.001||datum.value==0.0001||datum.value==0.00001||datum.value==0.000001||datum.value==10","value":-4},"value":-2.5},
      "labelPadding":5.5,"labelFontSize":13,"title":null}},
    "color":{"datum":"Θₜ","legend":{"title":null}}
   }},
  {"data":{"name":"b1"},"mark":{"type":"line","strokeWidth":1,"clip":true},
   "encoding":{"x":{"field":"t","type":"quantitative","scale":{"domain":[0,10],"nice":false}},"y":{"field":"v","type":"quantitative","scale":{"type":"log","domain":[1e-6,10],"nice":false,"clamp":true}},"color":{"datum":"Θₜᶠ¹","legend":{"title":null}}}},
  {"data":{"name":"b2"},"mark":{"type":"line","strokeWidth":1.3,"clip":true},
   "encoding":{"x":{"field":"t","type":"quantitative","scale":{"domain":[0,10],"nice":false}},"y":{"field":"v","type":"quantitative","scale":{"type":"log","domain":[1e-6,10],"nice":false,"clamp":true}},"color":{"datum":"Θₜᶠ²","legend":{"title":null}}}},
  {"data":{"values":[{"t":0.88,"v":10,"s":"η\u2002=\u200215"}]},"mark":{"type":"text","align":"left","baseline":"alphabetic","dy":-8,"fontSize":16,"color":"#2a2682"},
   "encoding":{"x":{"field":"t","type":"quantitative","scale":{"domain":[0,10],"nice":false}},"y":{"field":"v","type":"quantitative","scale":{"type":"log","domain":[1e-6,10],"nice":false,"clamp":true}},"text":{"field":"s"}}},
  {"data":{"values":[{"t":5.0,"v":10,"s":"t"}]},"mark":{"type":"text","baseline":"alphabetic","dy":1,"fontSize":13,"color":"#000000","font":"DejaVu Sans"},
   "encoding":{"x":{"field":"t","type":"quantitative","scale":{"domain":[0,10],"nice":false}},"y":{"field":"v","type":"quantitative","scale":{"type":"log","domain":[1e-6,10],"nice":false,"clamp":true}},"text":{"field":"s"}}},
  {"data":{"values":[{"t":7.87,"v":1e-6,"s":"•"}]},"mark":{"type":"text","dy":9,"fontSize":7,"color":"#000000","font":"DejaVu Sans"},
   "encoding":{"x":{"field":"t","type":"quantitative","scale":{"domain":[0,10],"nice":false}},"y":{"field":"v","type":"quantitative","scale":{"type":"log","domain":[1e-6,10],"nice":false,"clamp":true}},"text":{"field":"s"}}}
 ]
}
]
}
